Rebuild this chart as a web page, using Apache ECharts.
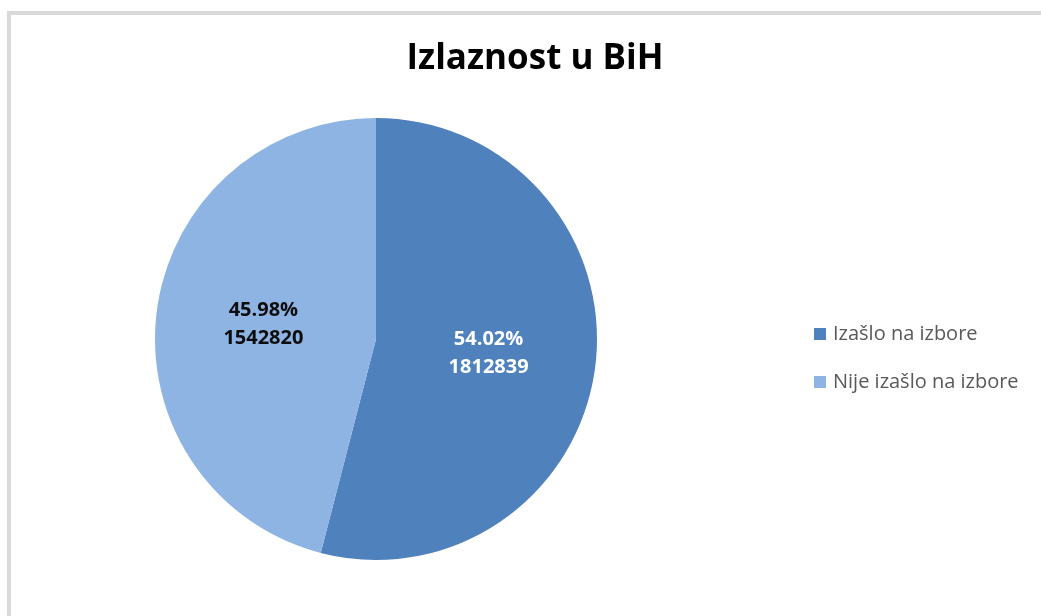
<!DOCTYPE html>
<html>
<head>
<meta charset="utf-8">
<script src="https://cdn.jsdelivr.net/npm/echarts@6/dist/echarts.min.js"></script>
<style>
html,body{margin:0;padding:0;background:#fff;}
#frame{position:absolute;left:7px;top:11px;width:1100px;height:700px;border-left:4px solid #d9d9d9;border-top:4px solid #d9d9d9;box-sizing:border-box;}
#chart{position:absolute;left:0;top:0;width:1041px;height:616px;}
</style>
</head>
<body>
<div id="frame"></div>
<div id="chart"></div>
<script>
const titleText = 'Izlaznost u BiH';
const categories = ['Izašlo na izbore', 'Nije izašlo na izbore'];
const values = [1812839, 1542820];
const percents = ['54.02%', '45.98%'];
const colors = ['#4f81bd', '#8eb4e3'];
const labelColors = ['#ffffff', '#0d0d0d'];

const chart = echarts.init(document.getElementById('chart'));
chart.setOption({
  animation: false,
  title: {
    text: titleText,
    left: 530, top: 37, textAlign: 'center',
    textStyle: {fontFamily: 'Open Sans', fontWeight: 'bold', fontSize: 35, color: '#000'}
  },
  legend: {
    orient: 'vertical',
    left: 814, top: 323,
    padding: 0,
    itemWidth: 12, itemHeight: 12, itemGap: 26,
    icon: 'rect',
    data: categories,
    textStyle: {fontFamily: 'Open Sans', fontSize: 20, color: '#595959', padding: [0,0,0,2], lineHeight: 22}
  },
  series: [{
    type: 'pie',
    center: [376, 339],
    radius: 221,
    startAngle: 90,
    clockwise: true,
    label: {
      show: true,
      position: 'inside',
      fontFamily: 'Open Sans', fontWeight: 'bold', fontSize: 20, lineHeight: 28,
      formatter: p => percents[p.dataIndex] + '\n' + values[p.dataIndex]
    },
    labelLine: {show: false},
    itemStyle: {borderWidth: 0},
    data: categories.map((c, i) => ({
      name: c, value: values[i],
      itemStyle: {color: colors[i]},
      label: {color: labelColors[i]}
    }))
  }]
});
</script>
</body>
</html>
